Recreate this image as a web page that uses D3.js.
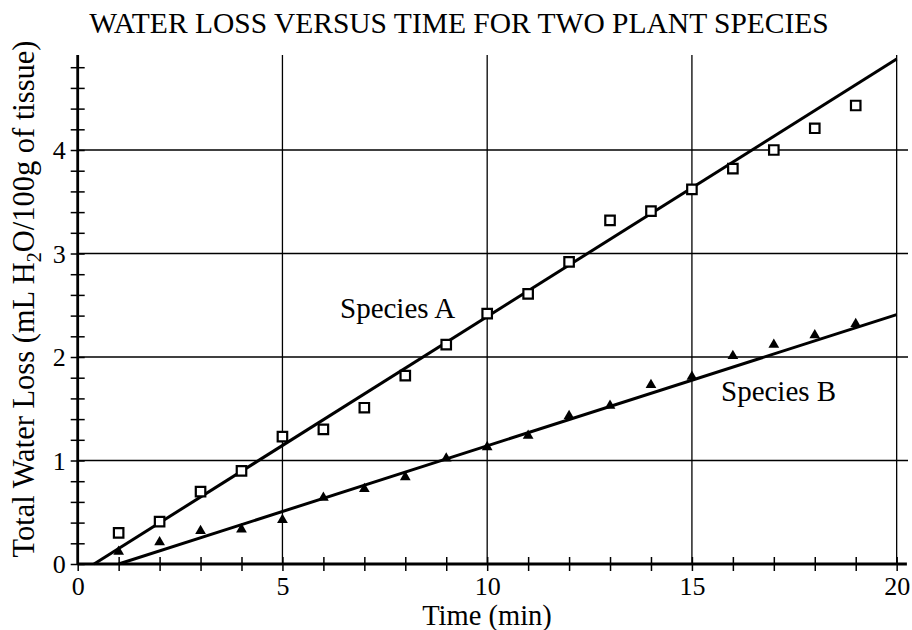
<!DOCTYPE html>
<html><head><meta charset="utf-8">
<script src="https://cdn.jsdelivr.net/npm/d3@7"></script>
<style>
html,body{margin:0;padding:0;background:#fff;}
svg text{font-family:"Liberation Serif","Times New Roman",serif !important;fill:#000;}
</style></head>
<body><svg id="c" width="912" height="630"></svg>
<script>
const time = [1,2,3,4,5,6,7,8,9,10,11,12,13,14,15,16,17,18,19];
const speciesA = [0.30,0.41,0.70,0.90,1.23,1.30,1.51,1.82,2.12,2.42,2.61,2.92,3.32,3.41,3.62,3.82,4.00,4.21,4.43];
const speciesB = [0.12,0.21,0.32,0.335,0.425,0.64,0.725,0.84,1.02,1.13,1.24,1.43,1.53,1.73,1.81,2.01,2.12,2.21,2.32];
const fitA = [[0.4,0],[20,4.88]];
const fitB = [[1.0,0],[20,2.41]];
const xMajor = [0,5,10,15,20];
const yMajor = [0,1,2,3,4];
const xMinor = d3.range(0,21,1);
const yMinor = d3.range(0,4.81,0.2);
const title = "WATER LOSS VERSUS TIME FOR TWO PLANT SPECIES";
const xTitle = "Time (min)";
const FONT = '"Liberation Serif","Times New Roman",serif';

const svg = d3.select("#c");
const x = d3.scaleLinear().domain([0,20.25]).range([77.7,906.9]);
const y = d3.scaleLinear().domain([0,4.918]).range([564,55]);

// grid
svg.append("g").selectAll("line").data(xMajor.filter(d=>d>0)).join("line")
  .attr("x1",d=>x(d)).attr("x2",d=>x(d)).attr("y1",y(0)).attr("y2",y(4.918))
  .attr("stroke","#000").attr("stroke-width",1.3);
svg.append("g").selectAll("line").data(yMajor.filter(d=>d>0)).join("line")
  .attr("x1",x(0)).attr("x2",908).attr("y1",d=>y(d)).attr("y2",d=>y(d))
  .attr("stroke","#000").attr("stroke-width",1.3);

// axes
const xAxis = svg.append("g").attr("transform",`translate(0,${y(0)})`)
  .call(d3.axisBottom(x).tickValues(xMinor).tickSize(0).tickFormat(""));
xAxis.select(".domain").attr("stroke-width",2.8).attr("d",`M${x(0)},0H${x(20.25)}`);
xAxis.selectAll(".tick line").attr("y1",-7).attr("y2",7).attr("stroke-width",1.5);
const xLab = svg.append("g").attr("transform",`translate(0,${y(0)})`)
  .call(d3.axisBottom(x).tickValues(xMajor).tickSize(0).tickPadding(0).tickFormat(d3.format("d")));
xLab.attr("font-family",FONT).attr("font-size",26);
xLab.select(".domain").remove();
xLab.selectAll("text").style("font-family",FONT).style("font-size","26px").attr("y",30.5).attr("dy",0);

const yAxis = svg.append("g").attr("transform",`translate(${x(0)},0)`)
  .call(d3.axisLeft(y).tickValues(yMinor).tickSize(0).tickFormat(""));
yAxis.select(".domain").attr("stroke-width",2.8).attr("d",`M0,${y(0)+1}V${y(4.918)}`);
yAxis.selectAll(".tick line").attr("x1",-7).attr("x2",7).attr("stroke-width",1.5);
const yLab = svg.append("g").attr("transform",`translate(${x(0)},0)`)
  .call(d3.axisLeft(y).tickValues(yMajor).tickSize(0).tickPadding(0).tickFormat(d3.format("d")));
yLab.attr("font-family",FONT).attr("font-size",26);
yLab.select(".domain").remove();
yLab.selectAll("text").style("font-family",FONT).style("font-size","26px").attr("x",-12).attr("dy","0.34em");

// fit lines
const line = d3.line().x(d=>x(d[0])).y(d=>y(d[1]));
svg.append("path").attr("d",line(fitA)).attr("fill","none").attr("stroke","#000").attr("stroke-width",3);
svg.append("path").attr("d",line(fitB)).attr("fill","none").attr("stroke","#000").attr("stroke-width",3);

// markers
svg.append("g").selectAll("path").data(time.map((t,i)=>[t,speciesA[i]])).join("path")
  .attr("transform",d=>`translate(${x(d[0])},${y(d[1])})`)
  .attr("d",d3.symbol(d3.symbolSquare,90)()).attr("fill","#fff").attr("stroke","#000").attr("stroke-width",2.2);
svg.append("g").selectAll("path").data(time.map((t,i)=>[t,speciesB[i]])).join("path")
  .attr("transform",d=>`translate(${x(d[0])},${y(d[1])})`)
  .attr("d",d3.symbol(d3.symbolTriangle,50)()).attr("fill","#000");

// labels
svg.append("text").attr("x",459).attr("y",33).attr("text-anchor","middle").attr("font-size",29.5).text(title);
svg.append("text").attr("x",487).attr("y",625).attr("text-anchor","middle").attr("font-size",28.5).text(xTitle);
svg.append("text").attr("x",340).attr("y",318).attr("font-size",29).text("Species A");
svg.append("text").attr("x",721).attr("y",401).attr("font-size",29).text("Species B");

const yt = svg.append("text").attr("transform","translate(34,299) rotate(-90)").attr("text-anchor","middle").attr("font-size",30.5);
yt.append("tspan").text("Total Water Loss (mL H");
yt.append("tspan").attr("font-size",20).attr("dy",7).text("2");
yt.append("tspan").attr("dy",-7).text("O/100g of tissue)");
</script></body></html>
